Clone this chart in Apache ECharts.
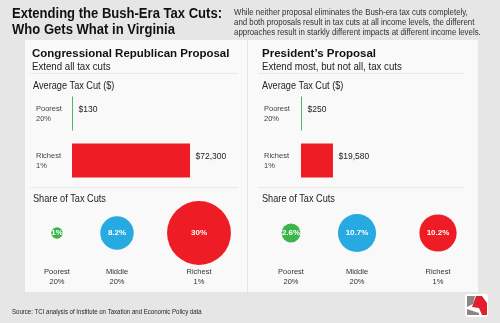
<!DOCTYPE html>
<html>
<head>
<meta charset="utf-8">
<script src="https://cdn.jsdelivr.net/npm/echarts@6/dist/echarts.min.js"></script>
<style>
  html, body { margin: 0; padding: 0; background: #e6e6e6; }
  #chart { width: 500px; height: 323px; }
</style>
</head>
<body>
<div id="chart"></div>
<script>
// Average tax cut per household, by income group
const avgGroups = ['Poorest\n20%', 'Richest\n1%'];
const avgCutRepublican = [130, 72300];
const avgCutPresident = [250, 19580];

// Share of total tax cuts going to each income group (%)
const shareGroups = ['Poorest\n20%', 'Middle\n20%', 'Richest\n1%'];
const shareRepublican = [1, 8.2, 30];
const sharePresident = [2.6, 10.7, 10.2];

const FONT = "'Liberation Sans', Arial, sans-serif";
const NARROW = 0.82;            // horizontal squeeze for the condensed text style
const barColors = ['#4cb85a', '#ee1c25'];
const bubbleColors = ['#3ab54a', '#27aae1', '#ee1c25'];
const AVG_MAX = 72300;

// Layout of the two proposal panels
const panels = [
  { textX: 32, barLeft: 72, labelMargin: 36, bubbleX: [57, 117, 199], sepX: [30, 238] },
  { textX: 262, barLeft: 301, labelMargin: 37, bubbleX: [291, 357, 438], sepX: [258, 464] }
];

const money = v => '$' + v.toLocaleString('en-US');
const bubbleSize = v => 11.66 * Math.sqrt(v);

const grid = [], xAxis = [], yAxis = [], series = [];

[avgCutRepublican, avgCutPresident].forEach((vals, p) => {
  const gi = grid.length;
  grid.push({ left: panels[p].barLeft, top: 90, width: 118, height: 94 });
  xAxis.push({ gridIndex: gi, type: 'value', min: 0, max: AVG_MAX, show: false });
  yAxis.push({
    gridIndex: gi, type: 'category', inverse: true, data: avgGroups,
    axisLine: { show: false }, axisTick: { show: false }, splitLine: { show: false },
    axisLabel: {
      align: 'left', margin: panels[p].labelMargin, fontSize: 7.5, lineHeight: 10,
      color: '#444', fontFamily: FONT, padding: [0, 0, 9, 0]
    }
  });
  series.push({
    type: 'bar', xAxisIndex: gi, yAxisIndex: gi, barWidth: 34, barMinHeight: 1,
    data: vals.map((v, i) => ({ value: v, itemStyle: { color: barColors[i] } })),
    label: {
      show: true, position: 'right', distance: 5.5, offset: [0, -4],
      formatter: d => money(d.value), fontSize: 8.5, color: '#222', fontFamily: FONT
    }
  });
});

[shareRepublican, sharePresident].forEach((vals, p) => {
  vals.forEach((v, i) => {
    const gi = grid.length;
    grid.push({ left: panels[p].bubbleX[i] - 25, top: 201, width: 50, height: 64 });
    xAxis.push({
      gridIndex: gi, type: 'category', data: [shareGroups[i]],
      axisLine: { show: false }, axisTick: { show: false },
      axisLabel: { margin: 2, fontSize: 7.5, lineHeight: 10, color: '#333', fontFamily: FONT }
    });
    yAxis.push({ gridIndex: gi, type: 'category', data: [''], show: false });
    series.push({
      type: 'scatter', xAxisIndex: gi, yAxisIndex: gi, clip: false,
      data: [[0, 0, v]],
      symbolSize: d => bubbleSize(d[2]),
      itemStyle: { color: bubbleColors[i], opacity: 1 },
      label: {
        show: true, position: 'inside', formatter: d => d.value[2] + '%',
        color: '#fff', fontWeight: 'bold', fontSize: 8, fontFamily: FONT
      }
    });
  });
});

// Heading and note text; `scale` squeezes glyphs horizontally
const gtext = (text, x, top, size, lineHeight, opts) => {
  const o = opts || {};
  return {
    type: 'text', x, y: top, scaleX: o.scale || 1, z: 10,
    style: {
      text, fontSize: size, fontFamily: FONT, fontWeight: o.bold ? 'bold' : 'normal',
      fill: o.color || '#222', lineHeight, verticalAlign: 'top', align: 'left'
    }
  };
};

const texts = [
  gtext('Extending the Bush-Era Tax Cuts:\nWho Gets What in Virginia', 12, 6, 14.5, 16, { bold: true, scale: 0.9, color: '#111' }),
  gtext('While neither proposal eliminates the Bush-era tax cuts completely,\nand both proposals result in tax cuts at all income levels, the different\napproaches result in starkly different impacts at different income levels.',
    234, 6.7, 9.6, 10.3, { scale: NARROW, color: '#333' }),
  gtext('Congressional Republican Proposal', panels[0].textX, 47, 11.5, 14, { bold: true, color: '#111' }),
  gtext('Extend all tax cuts', panels[0].textX, 60, 11.8, 14, { scale: NARROW }),
  gtext('President\u2019s Proposal', panels[1].textX, 47, 11.5, 14, { bold: true, color: '#111' }),
  gtext('Extend most, but not all, tax cuts', panels[1].textX, 60, 11.8, 14, { scale: NARROW }),
  gtext('Average Tax Cut ($)', 33, 79, 11.2, 14, { scale: NARROW }),
  gtext('Average Tax Cut ($)', 262, 79, 11.2, 14, { scale: NARROW }),
  gtext('Share of Tax Cuts', 33, 192, 11.2, 14, { scale: NARROW }),
  gtext('Share of Tax Cuts', 262, 192, 11.2, 14, { scale: NARROW }),
  gtext('Source: TCI analysis of Institute on Taxation and Economic Policy data', 12, 307, 7.4, 10, { scale: NARROW })
];

const sepStyle = { stroke: '#e9e9e9', lineWidth: 1 };
const graphic = [
  { type: 'rect', shape: { x: 25, y: 40, width: 453, height: 252 }, style: { fill: '#f9f9f9' }, z: -10 },
  { type: 'line', shape: { x1: 247.5, y1: 40, x2: 247.5, y2: 292 }, style: { stroke: '#e6e6e6', lineWidth: 1 }, z: -9 }
];
panels.forEach(pn => {
  [73.5, 187.5].forEach(y => graphic.push({
    type: 'line', shape: { x1: pn.sepX[0], y1: y, x2: pn.sepX[1], y2: y }, style: sepStyle, z: -9
  }));
});
// Logo mark
graphic.push(
  { type: 'rect', shape: { x: 465, y: 294, width: 23, height: 23, r: 3 }, style: { fill: '#ffffff' }, z: -9 },
  { type: 'polygon', shape: { points: [[467, 296], [475, 296], [473, 304], [467, 307]] }, style: { fill: '#8b8681' }, z: -8 },
  { type: 'polygon', shape: { points: [[467, 309], [479, 313], [479, 315], [467, 315]] }, style: { fill: '#8b8681' }, z: -8 },
  { type: 'polygon', shape: { points: [[476, 296], [482, 296], [487, 303], [487, 315], [482, 315], [479, 308], [472, 307]] }, style: { fill: '#e31e2d' }, z: -8 }
);
texts.forEach(t => graphic.push(t));

const chart = echarts.init(document.getElementById('chart'), null, { renderer: 'canvas' });
chart.setOption({
  backgroundColor: '#e6e6e6',
  animation: false,
  grid, xAxis, yAxis, series, graphic
});
</script>
</body>
</html>
